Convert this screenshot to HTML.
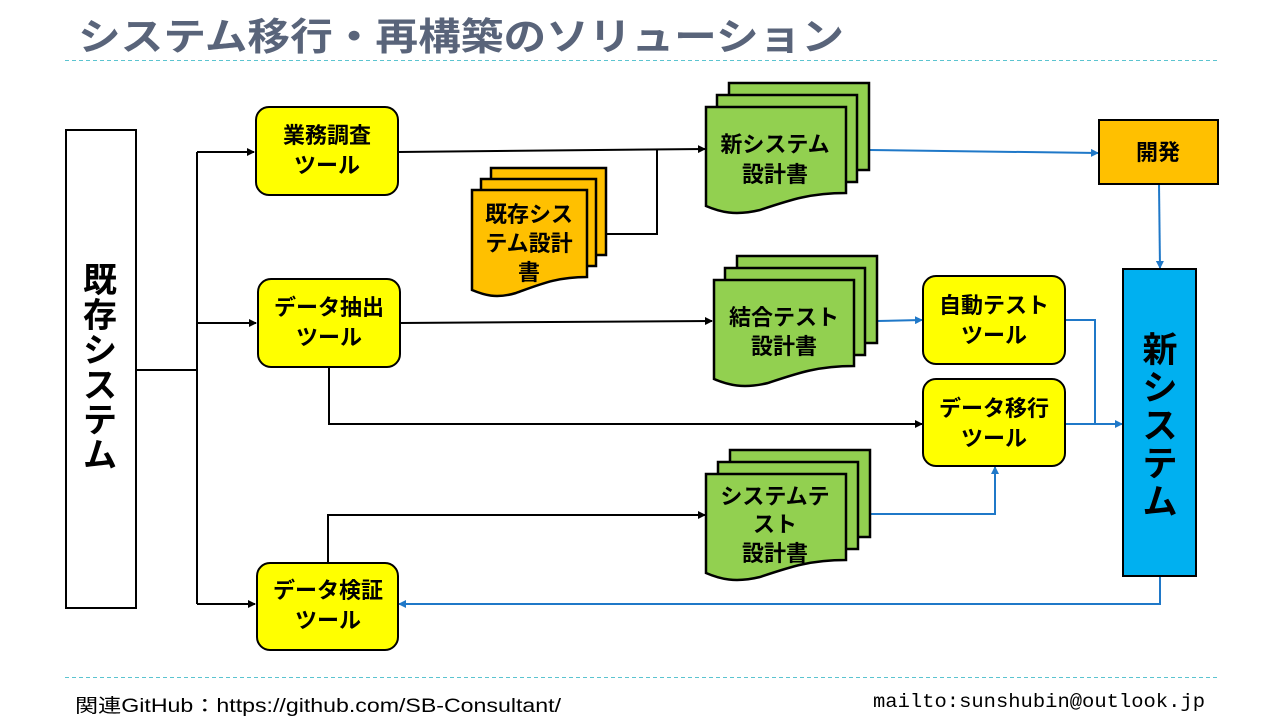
<!DOCTYPE html>
<html><head><meta charset="utf-8"><style>
html,body{margin:0;padding:0;background:#fff;}
svg{display:block;}
text{font-family:"Liberation Sans","Noto Sans CJK JP",sans-serif;}
.b{font-weight:bold;font-size:22px;fill:#000;text-anchor:middle;}
</style></head><body>
<svg width="1280" height="720" viewBox="0 0 1280 720" xmlns="http://www.w3.org/2000/svg">
<defs>
<marker id="ak" markerWidth="8" markerHeight="8" refX="7" refY="4" orient="auto" markerUnits="userSpaceOnUse"><path d="M0,0 L8,4 L0,8 Z" fill="#000"/></marker>
<marker id="ab" markerWidth="8" markerHeight="8" refX="7" refY="4" orient="auto" markerUnits="userSpaceOnUse"><path d="M0,0 L8,4 L0,8 Z" fill="#1F78C8"/></marker>
</defs>

<text x="78" y="50" font-size="38" font-weight="bold" fill="#59647A" textLength="766" lengthAdjust="spacingAndGlyphs">システム移行・再構築のソリューション</text>
<line x1="65" y1="60.5" x2="1218" y2="60.5" stroke="#5BC4D0" stroke-width="1" stroke-dasharray="4,3"/>
<line x1="65" y1="677.5" x2="1218" y2="677.5" stroke="#5BC4D0" stroke-width="1" stroke-dasharray="4,3"/>

<rect x="66" y="130" width="70" height="478" fill="#fff" stroke="#000" stroke-width="2"/>
<g font-size="34" font-weight="bold" text-anchor="middle" fill="#000">
<text x="100" y="292">既</text><text x="100" y="327">存</text><text x="100" y="362">シ</text><text x="100" y="397">ス</text><text x="100" y="432">テ</text><text x="100" y="467">ム</text>
</g>

<g stroke="#000" stroke-width="2" fill="none">
<path d="M136,370 H197"/>
<path d="M197,152 V604"/>
<path d="M197,152 H254" marker-end="url(#ak)"/>
<path d="M197,323 H256" marker-end="url(#ak)"/>
<path d="M197,604 H255" marker-end="url(#ak)"/>
<path d="M398,152 L705,149" marker-end="url(#ak)"/>
<path d="M606,234 H657 V149"/>
<path d="M400,323 L712,321" marker-end="url(#ak)"/>
<path d="M329,367 V424 H922" marker-end="url(#ak)"/>
<path d="M328,563 V515 H705" marker-end="url(#ak)"/>
</g>

<g stroke="#1F78C8" stroke-width="2" fill="none">
<path d="M869,150 L1098,153" marker-end="url(#ab)"/>
<path d="M1159,184 L1160,268" marker-end="url(#ab)"/>
<path d="M877,321 L922,320" marker-end="url(#ab)"/>
<path d="M1065,320 H1095 V424"/>
<path d="M1065,424 H1122" marker-end="url(#ab)"/>
<path d="M869,514 H995 V467" marker-end="url(#ab)"/>
<path d="M1160,576 V604 H399" marker-end="url(#ab)"/>
</g>

<g fill="#FFFF00" stroke="#000" stroke-width="2">
<rect x="256" y="107" width="142" height="88" rx="13"/>
<rect x="258" y="279" width="142" height="88" rx="13"/>
<rect x="257" y="563" width="141" height="87" rx="13"/>
<rect x="923" y="276" width="142" height="88" rx="13"/>
<rect x="923" y="379" width="142" height="87" rx="13"/>
</g>
<text class="b" x="327" y="143">業務調査</text><text class="b" x="327" y="173">ツール</text>
<text class="b" x="329" y="315">データ抽出</text><text class="b" x="329" y="345">ツール</text>
<text class="b" x="328" y="598">データ検証</text><text class="b" x="328" y="628">ツール</text>
<text class="b" x="994" y="313">自動テスト</text><text class="b" x="994" y="343">ツール</text>
<text class="b" x="994" y="416">データ移行</text><text class="b" x="994" y="446">ツール</text>

<g stroke="#000" stroke-width="2.5" fill="#92D050">
<rect x="729" y="83" width="140" height="87"/>
<rect x="717" y="95" width="140" height="87"/>
<path d="M706,107 H846 V193 C810,193 790,200 760,210 C735,216 720,212 706,206 Z"/>
<rect x="737" y="256" width="140" height="87"/>
<rect x="725" y="268" width="140" height="87"/>
<path d="M714,280 H854 V366 C818,366 798,373 768,383 C743,389 728,385 714,379 Z"/>
<rect x="730" y="450" width="140" height="87"/>
<rect x="718" y="462" width="140" height="87"/>
<path d="M706,474 H846 V560 C810,560 790,567 760,577 C735,583 720,579 706,573 Z"/>
</g>
<g stroke="#000" stroke-width="2.5" fill="#FFC000">
<rect x="491" y="168" width="115" height="87"/>
<rect x="481" y="179" width="115" height="87"/>
<path d="M472,190 H587 V277 C557,277 541,284 516,293 C496,299 484,295 472,290 Z"/>
</g>
<text class="b" x="775" y="152">新システム</text><text class="b" x="775" y="182">設計書</text>
<text class="b" x="784" y="325">結合テスト</text><text class="b" x="784" y="354">設計書</text>
<text class="b" x="775" y="504">システムテ</text><text class="b" x="775" y="532">スト</text><text class="b" x="775" y="561">設計書</text>
<text class="b" x="529" y="222">既存シス</text><text class="b" x="529" y="251">テム設計</text><text class="b" x="529" y="280">書</text>

<rect x="1099" y="120" width="119" height="64" fill="#FFC000" stroke="#000" stroke-width="2"/>
<text class="b" x="1158" y="160">開発</text>

<rect x="1123" y="269" width="73" height="307" fill="#00B0F0" stroke="#000" stroke-width="2"/>
<g font-size="35" font-weight="bold" text-anchor="middle" fill="#000">
<text x="1160" y="362">新</text><text x="1160" y="400">シ</text><text x="1160" y="438">ス</text><text x="1160" y="476">テ</text><text x="1160" y="514">ム</text>
</g>

<text x="75" y="712" font-size="19" fill="#000" textLength="486" lengthAdjust="spacingAndGlyphs">関連GitHub：https://github.com/SB-Consultant/</text>
<text x="873" y="707" font-size="19" fill="#000" style="font-family:'Liberation Mono',monospace" textLength="332" lengthAdjust="spacingAndGlyphs">mailto:sunshubin@outlook.jp</text>
</svg>
</body></html>
